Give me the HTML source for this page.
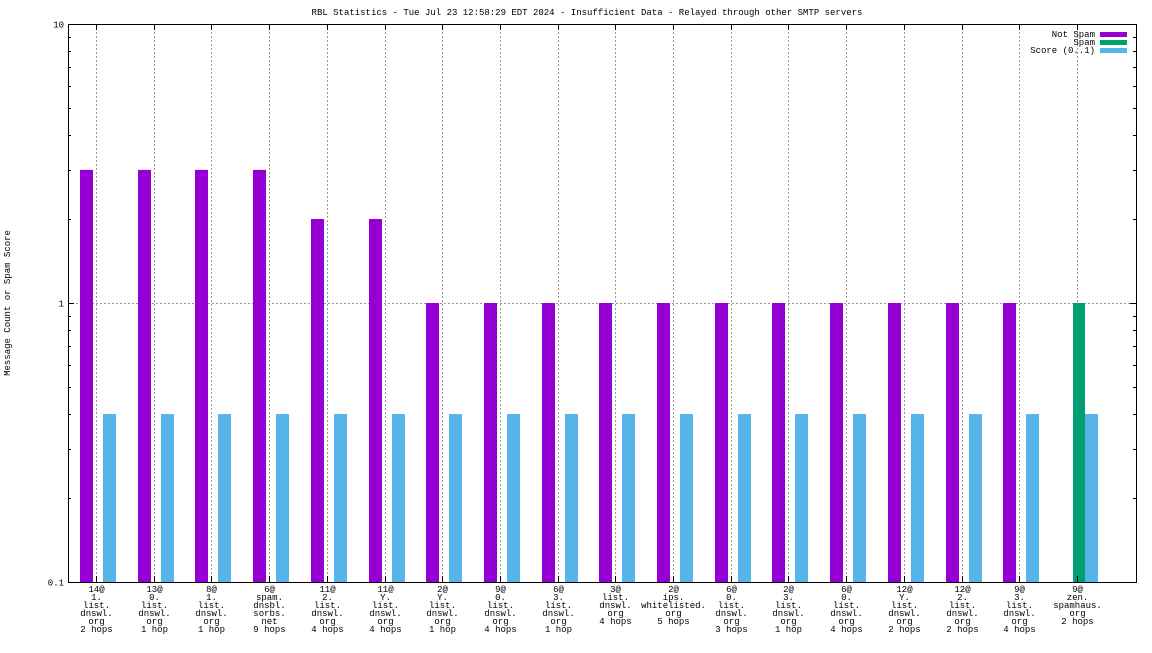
<!DOCTYPE html>
<html><head><meta charset="utf-8"><style>
body{margin:0;background:#fff}
svg text{font-family:"Liberation Mono",monospace;font-size:9px;fill:#000}
</style></head><body>
<svg id="c" width="1152" height="648">
<text x="587" y="15" text-anchor="middle">RBL Statistics - Tue Jul 23 12:58:29 EDT 2024 - Insufficient Data - Relayed through other SMTP servers</text>
<text transform="translate(10,303) rotate(-90)" text-anchor="middle">Message Count or Spam Score</text>
<g id="grid"></g><g id="bars"></g><g id="axes"></g>
<rect x="68.5" y="24.5" width="1068" height="558" fill="none" stroke="#000"/>
<g>
<text x="1095" y="37" text-anchor="end">Not Spam</text>
<rect x="1100" y="32" width="27" height="5" fill="#9400d3"/>
<text x="1095" y="45" text-anchor="end">Spam</text>
<rect x="1100" y="40" width="27" height="5" fill="#009e73"/>
<text x="1095" y="53" text-anchor="end">Score (0..1)</text>
<rect x="1100" y="48" width="27" height="5" fill="#56b4e9"/>
</g>
</svg>
<script>
const categories=[
["14@","1.","list.","dnswl.","org","2 hops"],["13@","0.","list.","dnswl.","org","1 hop"],["8@","1.","list.","dnswl.","org","1 hop"],["6@","spam.","dnsbl.","sorbs.","net","9 hops"],["11@","2.","list.","dnswl.","org","4 hops"],["11@","Y.","list.","dnswl.","org","4 hops"],["2@","Y.","list.","dnswl.","org","1 hop"],["9@","0.","list.","dnswl.","org","4 hops"],["6@","3.","list.","dnswl.","org","1 hop"],["3@","list.","dnswl.","org","4 hops"],["2@","ips.","whitelisted.","org","5 hops"],["6@","0.","list.","dnswl.","org","3 hops"],["2@","3.","list.","dnswl.","org","1 hop"],["6@","0.","list.","dnswl.","org","4 hops"],["12@","Y.","list.","dnswl.","org","2 hops"],["12@","2.","list.","dnswl.","org","2 hops"],["9@","3.","list.","dnswl.","org","4 hops"],["9@","zen.","spamhaus.","org","2 hops"]];
const notSpam=[3,3,3,3,2,2,1,1,1,1,1,1,1,1,1,1,1,0];
const spam=[0,0,0,0,0,0,0,0,0,0,0,0,0,0,0,0,0,1];
const score=[0.4,0.4,0.4,0.4,0.4,0.4,0.4,0.4,0.4,0.4,0.4,0.4,0.4,0.4,0.4,0.4,0.4,0.4];
const yTicks=[0.1,1,10];
const NS="http://www.w3.org/2000/svg";
const L=68,R=1136,T=24,B=582;
const y=v=>B-(Math.log10(v)-Math.log10(0.1))/2*(B-T);
const x=i=>96+i*(1077-96)/(categories.length-1);
function mk(tag,a,p){const e=document.createElementNS(NS,tag);for(const k in a)e.setAttribute(k,a[k]);p.appendChild(e);return e;}
const g=document.getElementById('grid'),bg=document.getElementById('bars'),ax=document.getElementById('axes');
// y ticks and minor ticks
for(let d=0.1;d<10;d*=10){for(let m=1;m<10;m++){const v=d*m;const yy=Math.round(y(v))+0.5;const len=m==1?6:3;
const t1=mk('line',{x1:L,x2:L+len,y1:yy,y2:yy,stroke:'#000'},ax);


const t2=mk('line',{x1:R-len,x2:R,y1:yy,y2:yy,stroke:'#000'},ax);

}}
yTicks.forEach(v=>{const yy=Math.round(y(v))+0.5;
const t=mk('text',{x:L-4,y:yy+3,'text-anchor':'end'},ax);t.textContent=String(v);


if(v>0.1&&v<10){const gl=mk('line',{x1:L,x2:R,y1:yy,y2:yy,stroke:'#999','stroke-dasharray':'2,2'},g);

}});
categories.forEach((c,i)=>{const cx=Math.round(x(i))+0.5;
const gl=mk('line',{x1:cx,x2:cx,y1:T,y2:B,stroke:'#999','stroke-dasharray':'2,2'},g);


const tk=mk('line',{x1:cx,x2:cx,y1:B-6,y2:B,stroke:'#000'},ax);


const tk2=mk('line',{x1:cx,x2:cx,y1:T,y2:T+6,stroke:'#000'},ax);


const t=mk('text',{x:cx,y:B+10,'text-anchor':'middle'},ax);


c.forEach((s,j)=>{const ts=mk('tspan',{x:cx,dy:j?8:0},t);ts.textContent=s;});
const bx=Math.round(x(i));
if(notSpam[i]>0){const r=mk('rect',{x:bx-16,y:y(notSpam[i]),width:13,height:B-y(notSpam[i]),fill:'#9400d3'},bg);

}
if(spam[i]>0){const r=mk('rect',{x:bx-4,y:y(spam[i]),width:12,height:B-y(spam[i]),fill:'#009e73'},bg);

}
const off=spam[i]>0?8:7;
const r=mk('rect',{x:bx+off,y:y(score[i]),width:13,height:B-y(score[i]),fill:'#56b4e9'},bg);


});
</script>
</body></html>
